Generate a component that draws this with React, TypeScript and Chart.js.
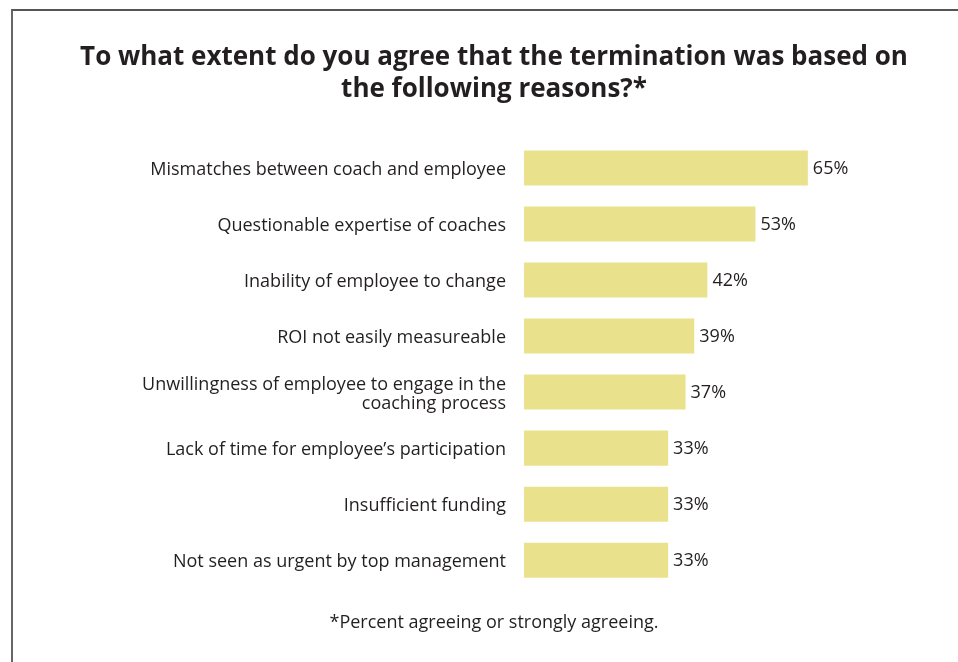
import React, { useEffect, useRef } from "react";
import { Chart, registerables } from "chart.js";

Chart.register(...registerables);

const categories: (string | string[])[] = [
  "Mismatches between coach and employee",
  "Questionable expertise of coaches",
  "Inability of employee to change",
  "ROI not easily measureable",
  ["Unwillingness of employee to engage in the", "coaching process"],
  "Lack of time for employee\u2019s participation",
  "Insufficient funding",
  "Not seen as urgent by top management",
];
const values: number[] = [65, 53, 42, 39, 37, 33, 33, 33];
const titleLines: string[] = [
  "To what extent do you agree that the termination was based on",
  "the following reasons?*",
];
const footnote = "*Percent agreeing or strongly agreeing.";

const FONT = "'Open Sans', 'Noto Sans', sans-serif";
const TEXT = "#231F20";

const valueLabels = {
  id: "valueLabels",
  afterDatasetsDraw(chart: any) {
    const ctx = chart.ctx;
    const meta = chart.getDatasetMeta(0);
    ctx.save();
    ctx.font = `18px ${FONT}`;
    ctx.fillStyle = TEXT;
    ctx.textAlign = "left";
    ctx.textBaseline = "middle";
    meta.data.forEach((bar: any, i: number) => {
      ctx.fillText(`${values[i]}%`, bar.x + 5, bar.y + 1);
    });
    ctx.restore();
  },
};

export default function App() {
  const ref = useRef<HTMLCanvasElement>(null);
  useEffect(() => {
    if (!ref.current) return;
    const chart = new Chart(ref.current, {
      type: "bar",
      data: {
        labels: categories,
        datasets: [
          {
            data: values,
            backgroundColor: "#EAE18D",
            borderWidth: 0,
            barPercentage: 0.625,
            categoryPercentage: 1,
          },
        ],
      },
      options: {
        indexAxis: "y",
        animation: false,
        responsive: false,
        maintainAspectRatio: false,
        layout: { padding: { left: 71, right: 41, top: 0, bottom: 0 } },
        plugins: {
          legend: { display: false },
          tooltip: { enabled: false },
          title: {
            display: true,
            text: titleLines,
            color: TEXT,
            font: { family: FONT, size: 26, weight: "bold", lineHeight: 1.23 },
            padding: { top: 42, bottom: 34 },
          },
          subtitle: {
            display: true,
            position: "bottom",
            text: footnote,
            color: TEXT,
            font: { family: FONT, size: 18, weight: "normal", lineHeight: 1.1 },
            padding: { top: 25, bottom: 29 },
          },
        },
        scales: {
          x: {
            display: false,
            min: 0,
            max: 90,
          },
          y: {
            grid: { display: false },
            border: { display: false },
            afterFit(scale: any) {
              scale.width = 453;
            },
            ticks: {
              color: TEXT,
              padding: 10,
              labelOffset: 2,
              font: { family: FONT, size: 18, lineHeight: 1.07 },
            },
          },
        },
      },
      plugins: [valueLabels],
    });
    return () => chart.destroy();
  }, []);

  return (
    <div style={{ position: "fixed", left: 0, top: 0, width: 958, height: 662, overflow: "hidden", background: "#fff" }}>
      <div
        style={{
          position: "absolute",
          left: 11,
          top: 9,
          width: 1100,
          height: 800,
          borderLeft: "2px solid #666",
          borderTop: "2px solid #555",
        }}
      />
      <canvas ref={ref} width={958} height={662} style={{ position: "absolute", left: 0, top: 0, width: 958, height: 662 }} />
    </div>
  );
}
